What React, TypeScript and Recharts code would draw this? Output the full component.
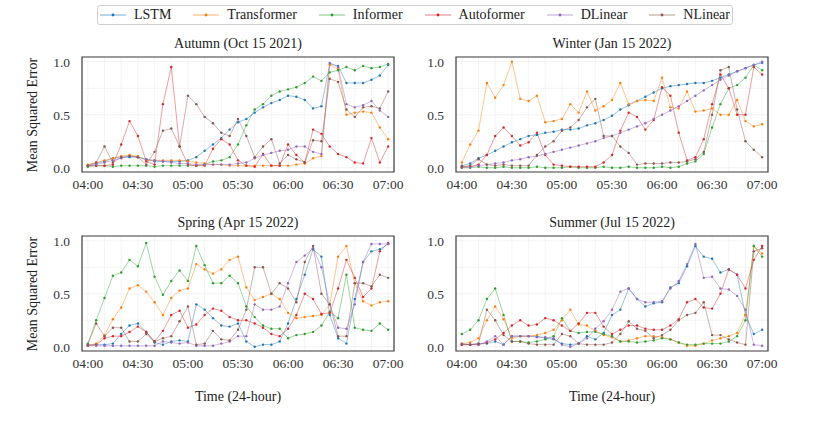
import React from "react";
import { LineChart, Line, XAxis, YAxis, CartesianGrid, ReferenceArea } from "recharts";

// one sample every 5 minutes, 04:00 - 07:00
const times = [
  "04:00", "04:05", "04:10", "04:15", "04:20", "04:25", "04:30", "04:35", "04:40", "04:45",
  "04:50", "04:55", "05:00", "05:05", "05:10", "05:15", "05:20", "05:25", "05:30", "05:35",
  "05:40", "05:45", "05:50", "05:55", "06:00", "06:05", "06:10", "06:15", "06:20", "06:25",
  "06:30", "06:35", "06:40", "06:45", "06:50", "06:55", "07:00",
];
const tickLabels = ["04:00", "04:30", "05:00", "05:30", "06:00", "06:30", "07:00"];
const yTicks = [0, 0.5, 1];

const models = ["LSTM", "Transformer", "Informer", "Autoformer", "DLinear", "NLinear"];
const colors = ["#1f77b4", "#ff7f0e", "#2ca02c", "#d62728", "#9467bd", "#8c564b"];

// Autumn (Oct 15 2021)
const autumnLSTM = [0.02, 0.04, 0.06, 0.09, 0.1, 0.1, 0.1, 0.08, 0.06, 0.06, 0.06, 0.06, 0.07, 0.1, 0.16, 0.22, 0.28, 0.36, 0.43, 0.46, 0.52, 0.57, 0.61, 0.64, 0.68, 0.67, 0.64, 0.56, 0.58, 0.98, 0.96, 0.8, 0.8, 0.8, 0.83, 0.87, 0.97];
const autumnTransformer = [0.03, 0.05, 0.07, 0.09, 0.11, 0.12, 0.11, 0.07, 0.07, 0.07, 0.07, 0.07, 0.06, 0.05, 0.04, 0.03, 0.03, 0.02, 0.02, 0.02, 0.02, 0.02, 0.02, 0.02, 0.02, 0.03, 0.04, 0.09, 0.11, 0.97, 0.93, 0.5, 0.52, 0.53, 0.52, 0.38, 0.27];
const autumnInformer = [0.01, 0.02, 0.02, 0.01, 0.02, 0.02, 0.02, 0.02, 0.01, 0.02, 0.02, 0.02, 0.02, 0.02, 0.03, 0.06, 0.07, 0.1, 0.22, 0.4, 0.55, 0.6, 0.68, 0.72, 0.74, 0.76, 0.8, 0.86, 0.82, 0.9, 0.92, 0.95, 0.92, 0.96, 0.94, 0.95, 0.98];
const autumnAutoformer = [0.02, 0.02, 0.02, 0.03, 0.22, 0.44, 0.3, 0.06, 0.03, 0.6, 0.95, 0.2, 0.03, 0.02, 0.02, 0.18, 0.27, 0.22, 0.07, 0.02, 0.01, 0.13, 0.02, 0.02, 0.22, 0.12, 0.05, 0.36, 0.32, 0.2, 0.13, 0.1, 0.05, 0.04, 0.28, 0.05, 0.2];
const autumnDLinear = [0.02, 0.03, 0.05, 0.07, 0.09, 0.11, 0.1, 0.08, 0.07, 0.06, 0.05, 0.04, 0.04, 0.03, 0.03, 0.03, 0.03, 0.03, 0.04, 0.05, 0.09, 0.12, 0.14, 0.16, 0.17, 0.2, 0.2, 0.15, 0.13, 0.99, 0.95, 0.6, 0.57, 0.59, 0.63, 0.54, 0.48];
const autumnNLinear = [0.02, 0.05, 0.2, 0.05, 0.1, 0.11, 0.1, 0.03, 0.15, 0.35, 0.37, 0.2, 0.68, 0.6, 0.48, 0.42, 0.33, 0.3, 0.46, 0.3, 0.1, 0.2, 0.27, 0.04, 0.12, 0.08, 0.05, 0.26, 0.25, 0.84, 0.81, 0.55, 0.48, 0.57, 0.58, 0.56, 0.72];

// Winter (Jan 15 2022)
const winterLSTM = [0.02, 0.04, 0.09, 0.12, 0.16, 0.2, 0.24, 0.27, 0.3, 0.31, 0.33, 0.34, 0.36, 0.36, 0.37, 0.4, 0.42, 0.45, 0.49, 0.55, 0.59, 0.63, 0.67, 0.71, 0.75, 0.77, 0.78, 0.79, 0.8, 0.8, 0.82, 0.85, 0.88, 0.91, 0.94, 0.97, 0.99];
const winterTransformer = [0.05, 0.22, 0.35, 0.8, 0.66, 0.78, 1.0, 0.65, 0.63, 0.68, 0.43, 0.44, 0.46, 0.6, 0.52, 0.72, 0.54, 0.58, 0.64, 0.8, 0.6, 0.63, 0.64, 0.63, 0.85, 0.57, 0.56, 0.72, 0.53, 0.54, 0.56, 0.5, 0.5, 0.64, 0.44, 0.39, 0.41];
const winterInformer = [0.0, 0.0, 0.01, 0.0, 0.0, 0.01, 0.0, 0.0, 0.0, 0.01, 0.0, 0.0, 0.0, 0.01, 0.0, 0.0, 0.0, 0.01, 0.0, 0.0, 0.01, 0.0, 0.0, 0.0, 0.01, 0.0, 0.01, 0.04, 0.06, 0.13, 0.38, 0.6, 0.75, 0.78, 0.85, 0.97, 0.92];
const winterAutoformer = [0.01, 0.01, 0.03, 0.12, 0.3, 0.38, 0.3, 0.21, 0.24, 0.33, 0.12, 0.03, 0.02, 0.01, 0.01, 0.01, 0.01, 0.05, 0.12, 0.35, 0.52, 0.48, 0.36, 0.45, 0.76, 0.68, 0.33, 0.07, 0.1, 0.27, 0.6, 0.88, 0.75, 0.5, 0.5, 0.95, 0.88];
const winterDLinear = [0.0, 0.01, 0.02, 0.03, 0.04, 0.05, 0.07, 0.08, 0.1, 0.11, 0.13, 0.15, 0.17, 0.19, 0.21, 0.23, 0.25, 0.28, 0.3, 0.33, 0.36, 0.39, 0.42, 0.46, 0.5, 0.54, 0.58, 0.63, 0.68, 0.73, 0.78, 0.83, 0.87, 0.91, 0.94, 0.97, 1.0];
const winterNLinear = [0.01, 0.02, 0.08, 0.03, 0.02, 0.03, 0.02, 0.02, 0.02, 0.12, 0.2, 0.25, 0.35, 0.38, 0.45, 0.57, 0.65, 0.3, 0.3, 0.2, 0.14, 0.03, 0.04, 0.04, 0.04, 0.05, 0.05, 0.06, 0.08, 0.15, 0.5, 0.92, 0.95, 0.55, 0.25, 0.17, 0.1];

// Spring (Apr 15 2022)
const springLSTM = [0.02, 0.02, 0.02, 0.03, 0.12, 0.2, 0.22, 0.14, 0.04, 0.02, 0.05, 0.06, 0.05, 0.4, 0.35, 0.27, 0.2, 0.19, 0.22, 0.05, 0.0, 0.02, 0.02, 0.05, 0.22, 0.45, 0.68, 0.92, 0.85, 0.3, 0.08, 0.03, 0.45, 0.8, 0.9, 0.92, 0.97];
const springTransformer = [0.01, 0.03, 0.11, 0.26, 0.37, 0.55, 0.58, 0.52, 0.42, 0.3, 0.46, 0.53, 0.55, 0.78, 0.73, 0.69, 0.73, 0.82, 0.85, 0.56, 0.44, 0.47, 0.5, 0.45, 0.32, 0.27, 0.28, 0.29, 0.3, 0.4, 0.85, 0.95, 0.6, 0.43, 0.39, 0.42, 0.43];
const springInformer = [0.03, 0.25, 0.46, 0.67, 0.7, 0.82, 0.76, 0.98, 0.66, 0.49, 0.62, 0.72, 0.62, 0.95, 0.77, 0.6, 0.6, 0.67, 0.6, 0.38, 0.28, 0.2, 0.17, 0.17, 0.08, 0.11, 0.12, 0.14, 0.2, 0.33, 0.27, 0.68, 0.18, 0.16, 0.15, 0.22, 0.16];
const springAutoformer = [0.01, 0.02, 0.08, 0.1, 0.1, 0.14, 0.19, 0.14, 0.05, 0.15, 0.3, 0.34, 0.18, 0.21, 0.3, 0.36, 0.34, 0.28, 0.25, 0.25, 0.22, 0.18, 0.12, 0.1, 0.17, 0.3, 0.5, 0.45, 0.31, 0.32, 0.55, 0.82, 0.65, 0.47, 0.55, 0.9, 0.98];
const springDLinear = [0.01, 0.01, 0.01, 0.01, 0.01, 0.01, 0.01, 0.01, 0.01, 0.05, 0.04, 0.03, 0.04, 0.01, 0.01, 0.01, 0.03, 0.05, 0.1, 0.1, 0.4, 0.35, 0.35, 0.38, 0.6, 0.8, 0.86, 0.93, 0.75, 0.4, 0.18, 0.17, 0.4, 0.8, 0.97, 0.97, 0.97];
const springNLinear = [0.02, 0.22, 0.1, 0.18, 0.18, 0.05, 0.05, 0.12, 0.05, 0.08, 0.1, 0.24, 0.38, 0.02, 0.03, 0.15, 0.07, 0.06, 0.16, 0.35, 0.75, 0.75, 0.5, 0.6, 0.55, 0.42, 0.8, 0.95, 0.5, 0.4, 0.1, 0.1, 0.6, 0.6, 0.57, 0.68, 0.65];

// Summer (Jul 15 2022)
const summerLSTM = [0.03, 0.02, 0.03, 0.03, 0.05, 0.02, 0.1, 0.1, 0.1, 0.1, 0.08, 0.07, 0.03, 0.02, 0.03, 0.1, 0.07, 0.13, 0.3, 0.35, 0.55, 0.45, 0.38, 0.41, 0.42, 0.56, 0.6, 0.76, 0.95, 0.85, 0.83, 0.7, 0.73, 0.68, 0.3, 0.12, 0.16];
const summerTransformer = [0.03, 0.04, 0.08, 0.25, 0.38, 0.26, 0.08, 0.1, 0.1, 0.11, 0.13, 0.16, 0.25, 0.35, 0.21, 0.2, 0.15, 0.11, 0.09, 0.05, 0.06, 0.08, 0.1, 0.1, 0.09, 0.07, 0.04, 0.01, 0.01, 0.03, 0.06, 0.08, 0.1, 0.13, 0.3, 0.95, 0.88];
const summerInformer = [0.12, 0.16, 0.25, 0.45, 0.55, 0.3, 0.05, 0.05, 0.04, 0.05, 0.07, 0.1, 0.27, 0.15, 0.13, 0.14, 0.14, 0.12, 0.1, 0.05, 0.05, 0.04, 0.05, 0.06, 0.08, 0.07, 0.04, 0.02, 0.02, 0.03, 0.03, 0.03, 0.05, 0.1, 0.25, 0.95, 0.85];
const summerAutoformer = [0.02, 0.02, 0.02, 0.04, 0.07, 0.13, 0.2, 0.25, 0.2, 0.21, 0.27, 0.25, 0.2, 0.15, 0.22, 0.32, 0.32, 0.19, 0.12, 0.16, 0.2, 0.2, 0.17, 0.16, 0.16, 0.2, 0.26, 0.42, 0.45, 0.37, 0.36, 0.5, 0.73, 0.68, 0.55, 0.82, 0.95];
const summerDLinear = [0.02, 0.02, 0.02, 0.05, 0.1, 0.02, 0.1, 0.1, 0.1, 0.09, 0.09, 0.08, 0.02, 0.0, 0.03, 0.08, 0.17, 0.24, 0.35, 0.52, 0.55, 0.45, 0.42, 0.42, 0.43, 0.55, 0.62, 0.78, 0.97, 0.65, 0.66, 0.55, 0.54, 0.48, 0.35, 0.02, 0.01];
const summerNLinear = [0.02, 0.02, 0.03, 0.35, 0.25, 0.11, 0.05, 0.05, 0.03, 0.02, 0.02, 0.02, 0.12, 0.1, 0.03, 0.02, 0.02, 0.02, 0.04, 0.12, 0.24, 0.17, 0.15, 0.08, 0.11, 0.16, 0.25, 0.3, 0.32, 0.42, 0.11, 0.11, 0.07, 0.04, 0.02, 0.9, 0.93];

const FONT = "'Liberation Serif', 'Times New Roman', serif";
const PLOT_W = 312;
const PLOT_H = 115;
const AXIS_W = 82;
const RIGHT = 24;

const panels = [
  { title: "Autumn (Oct 15 2021)", left: 82, top: 57, yLabel: true, xLabel: false,
    series: [autumnLSTM, autumnTransformer, autumnInformer, autumnAutoformer, autumnDLinear, autumnNLinear] },
  { title: "Winter (Jan 15 2022)", left: 456, top: 57, yLabel: false, xLabel: false,
    series: [winterLSTM, winterTransformer, winterInformer, winterAutoformer, winterDLinear, winterNLinear] },
  { title: "Spring (Apr 15 2022)", left: 82, top: 236, yLabel: true, xLabel: true,
    series: [springLSTM, springTransformer, springInformer, springAutoformer, springDLinear, springNLinear] },
  { title: "Summer (Jul 15 2022)", left: 456, top: 236, yLabel: false, xLabel: true,
    series: [summerLSTM, summerTransformer, summerInformer, summerAutoformer, summerDLinear, summerNLinear] },
];

const toMin = (s: string) => {
  const [h, m] = s.split(":").map(Number);
  return h * 60 + m - 240;
};
const tickValues = tickLabels.map(toMin);
const gridX = [0, 10, 20, 30, 40, 50, 60, 70, 80, 90, 100, 110, 120, 130, 140, 150, 160, 170, 180];
const labelFor: Record<number, string> = {};
tickLabels.forEach((l) => (labelFor[toMin(l)] = l));

function Panel({ p }: { p: (typeof panels)[number] }) {
  const data = times.map((t, i) => {
    const row: Record<string, number> = { t: toMin(t) };
    models.forEach((m, k) => (row[m] = p.series[k][i]));
    return row;
  });
  const tickStyle = { fontFamily: FONT, fontSize: 13.5, fill: "#333" };

  return (
    <>
      <div
        style={{
          position: "absolute", left: p.left, top: p.top - 21, width: PLOT_W,
          textAlign: "center", fontFamily: FONT, fontSize: 14, color: "#222", lineHeight: "16px",
        }}
      >
        {p.title}
      </div>
      <div style={{ position: "absolute", left: p.left - AXIS_W, top: p.top - 8 }}>
        <LineChart
          width={AXIS_W + PLOT_W + RIGHT}
          height={8 + PLOT_H + 30}
          data={data}
          margin={{ top: 8, right: RIGHT, left: 0, bottom: 0 }}
        >
          <CartesianGrid stroke="#ececec" strokeWidth={0.6} verticalValues={gridX} horizontalValues={[0, 0.25, 0.5, 0.75, 1]} />
          <XAxis
            dataKey="t"
            type="number"
            domain={[-3.5, 183.5]}
            ticks={tickValues}
            tickFormatter={(v: number) => labelFor[v] ?? ""}
            tick={tickStyle}
            tickLine={false}
            axisLine={false}
            tickSize={0}
            tickMargin={7}
            height={30}
            interval={0}
          />
          <YAxis
            type="number"
            domain={[-0.04, 1.045]}
            ticks={yTicks}
            tickFormatter={(v: number) => v.toFixed(1)}
            tick={tickStyle}
            tickLine={false}
            axisLine={false}
            tickSize={0}
            tickMargin={12}
            width={AXIS_W}
            interval={0}
          />
          {models.map((m, k) => (
            <Line
              key={m}
              dataKey={m}
              type="linear"
              stroke={colors[k]}
              strokeOpacity={0.5}
              strokeWidth={0.9}
              dot={{ r: 1.2, fill: colors[k], stroke: "none", fillOpacity: 1 }}
              isAnimationActive={false}
            />
          ))}
          <ReferenceArea
            x1={-3.5}
            x2={183.5}
            y1={-0.04}
            y2={1.045}
            fill="none"
            stroke="#3a3a3a"
            strokeWidth={1.2}
            ifOverflow="visible"
          />
        </LineChart>
      </div>
      {p.yLabel && (
        <div
          style={{
            position: "absolute", left: 33, top: p.top + PLOT_H / 2,
            transform: "translate(-50%, -50%) rotate(-90deg)", whiteSpace: "nowrap",
            fontFamily: FONT, fontSize: 14, color: "#222",
          }}
        >
          Mean Squared Error
        </div>
      )}
      {p.xLabel && (
        <div
          style={{
            position: "absolute", left: p.left, top: p.top + PLOT_H + 38, width: PLOT_W,
            textAlign: "center", fontFamily: FONT, fontSize: 14, color: "#222",
          }}
        >
          Time (24-hour)
        </div>
      )}
    </>
  );
}

function Legend() {
  return (
    <div
      style={{
        position: "absolute", left: 97, top: 5, width: 636, height: 20,
        border: "1px solid #cfcfcf", borderRadius: 3, boxSizing: "border-box",
        display: "flex", alignItems: "center", justifyContent: "center", gap: 22,
        fontFamily: FONT, fontSize: 14, color: "#222",
      }}
    >
      {models.map((m, k) => (
        <div key={m} style={{ display: "flex", alignItems: "center", gap: 8 }}>
          <svg width={26} height={8}>
            <line x1={0} y1={4} x2={26} y2={4} stroke={colors[k]} strokeOpacity={0.6} strokeWidth={1} />
            <circle cx={13} cy={4} r={1.4} fill={colors[k]} />
          </svg>
          <span>{m}</span>
        </div>
      ))}
    </div>
  );
}

export default function App() {
  return (
    <div style={{ position: "absolute", left: 0, top: 0, width: 830, height: 427, background: "#fff" }}>
      <Legend />
      {panels.map((p) => (
        <Panel key={p.title} p={p} />
      ))}
    </div>
  );
}
